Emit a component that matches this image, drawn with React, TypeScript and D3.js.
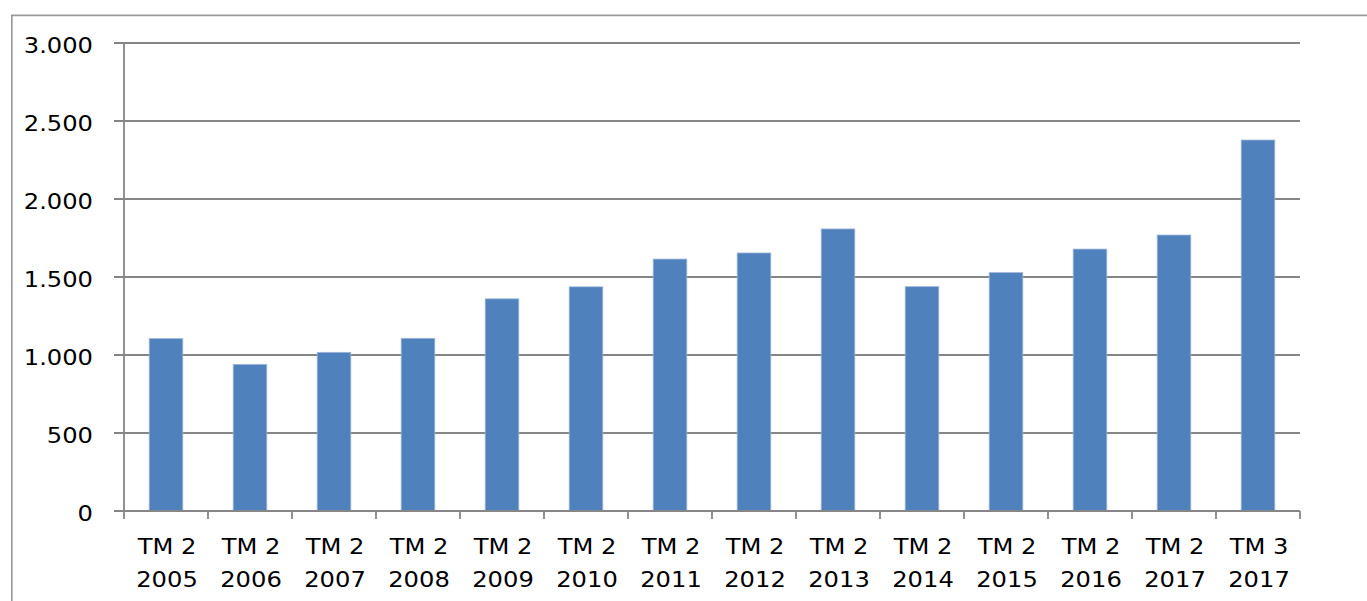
import React from "react";
import * as d3 from "d3";

const categories: string[][] = [
  ["TM 2", "2005"], ["TM 2", "2006"], ["TM 2", "2007"], ["TM 2", "2008"],
  ["TM 2", "2009"], ["TM 2", "2010"], ["TM 2", "2011"], ["TM 2", "2012"],
  ["TM 2", "2013"], ["TM 2", "2014"], ["TM 2", "2015"], ["TM 2", "2016"],
  ["TM 2", "2017"], ["TM 3", "2017"],
];
const values: number[] = [1105, 940, 1017, 1107, 1360, 1437, 1615, 1654, 1808, 1438, 1528, 1679, 1769, 2378];
const yTicks: number[] = [0, 500, 1000, 1500, 2000, 2500, 3000];
const yTickLabels: string[] = ["0", "500", "1.000", "1.500", "2.000", "2.500", "3.000"];

const W = 1367, H = 601;
const left = 124, right = 1300, top = 43, bottom = 511;
const FONT = "'DejaVu Sans', Verdana, sans-serif";
const FS = 22;
const SX = 1.1;

export default function App() {
  const keys = categories.map((_, i) => String(i));
  const x = d3.scaleBand<string>().domain(keys).range([left, right]).paddingInner(0.6).paddingOuter(0.3);
  const y = d3.scaleLinear().domain([0, 3000]).range([bottom, top]);
  const bandStarts = d3.range(categories.length + 1).map((i) => left + i * (right - left) / categories.length);
  const grid = "#868686";

  return (
    <svg width={W} height={H} style={{ position: "absolute", left: 0, top: 0, background: "#fff" }}>
      <rect x={0} y={0} width={W} height={H} fill="#fff" />
      {/* outer chart border */}
      <path d={`M11.8,${H + 2} V15.3 H${W + 2}`} fill="none" stroke="#9a9a9a" strokeWidth={1.7} />
      {/* gridlines */}
      {yTicks.map((t) => (
        <line key={"g" + t} x1={left - 10} x2={right} y1={y(t)} y2={y(t)} stroke={grid} strokeWidth={1.8} />
      ))}
      {/* bars */}
      {values.map((v, i) => (
        <rect key={"b" + i} x={x(String(i))!} y={y(v)} width={x.bandwidth()} height={y(0) - y(v)}
          fill="#4F81BD" stroke="#9db6d8" strokeWidth={0.8} />
      ))}
      {/* axes */}
      <line x1={left} x2={left} y1={top} y2={bottom} stroke={grid} strokeWidth={1.8} />
      <line x1={left - 10} x2={right} y1={bottom} y2={bottom} stroke={grid} strokeWidth={1.8} />
      {bandStarts.map((bx, i) => (
        <line key={"t" + i} x1={bx} x2={bx} y1={bottom} y2={bottom + 8} stroke={grid} strokeWidth={1.8} />
      ))}
      {/* y labels */}
      {yTicks.map((t, i) => (
        <text key={"yl" + t} transform={`translate(93,${y(t) + 9.5}) scale(${SX},1)`} textAnchor="end"
          fontFamily={FONT} fontSize={FS} fill="#000">{yTickLabels[i]}</text>
      ))}
      {/* x labels */}
      {categories.map((c, i) => {
        const cx = x(String(i))! + x.bandwidth() / 2 + 1;
        return (
          <g key={"xl" + i}>
            <text transform={`translate(${cx},554) scale(${SX},1)`} textAnchor="middle" fontFamily={FONT} fontSize={FS} fill="#000">{c[0]}</text>
            <text transform={`translate(${cx},587) scale(${SX},1)`} textAnchor="middle" fontFamily={FONT} fontSize={FS} fill="#000">{c[1]}</text>
          </g>
        );
      })}
    </svg>
  );
}
